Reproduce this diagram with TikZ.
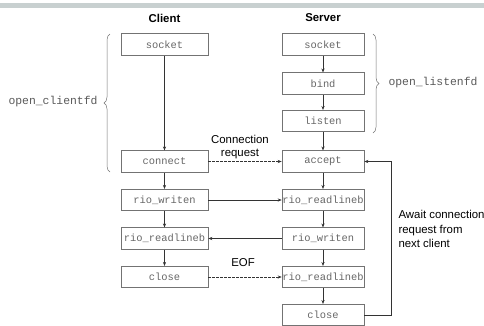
\documentclass[tikz,border=0pt]{standalone}
\usepackage{fontspec}
\setmainfont{Liberation Sans}
\newfontfamily\monofont{Liberation Mono}
\usetikzlibrary{arrows.meta,decorations.pathreplacing}
\definecolor{barcol}{RGB}{200,208,208}
\tikzset{
  fnbox/.style={draw=black!55, line width=0.6pt, minimum height=21.5pt, inner sep=0pt,
    text=black!60, font=\monofont\fontsize{10.4pt}{12pt}\selectfont},
  cbox/.style={fnbox, minimum width=87pt},
  sbox/.style={fnbox, minimum width=82pt},
  flow/.style={draw=black!80, line width=0.6pt, -{Stealth[length=4pt,width=3.2pt]}},
  msg/.style={flow, dash pattern=on 2.5pt off 1.5pt},
  head/.style={font=\bfseries\fontsize{11.4pt}{13pt}\selectfont},
  note/.style={font=\fontsize{11.4pt}{14.5pt}\selectfont},
  fdname/.style={text=black!65, font=\monofont\fontsize{11.4pt}{13pt}\selectfont},
  grp/.style={draw=black!55, line width=0.5pt, decorate, decoration={brace, amplitude=6pt}}
}

\begin{document}
\begin{tikzpicture}[x=1pt,y=-1pt]
			%%%%% START %%%%%
			\useasboundingbox (0,0) rectangle (484,325);
			\fill[barcol] (0,3) rectangle (484,8);
			
			\node[head] (client) at (164.5,18) {Client};
			\node[head] (server) at (323,18) {Server};
			
			\node[cbox] (csock) at (164.5,44.5) {socket};
			\node[cbox] (cconn) at (164.5,161.5) {connect};
			\node[cbox] (cwrite) at (164.5,200) {rio\_writen};
			\node[cbox] (cread) at (164.5,238.5) {rio\_readlineb};
			\node[cbox] (cclose) at (164.5,277) {close};
			
			\node[sbox] (ssock) at (323,44.5) {socket};
			\node[sbox] (sbind) at (323,83.5) {bind};
			\node[sbox] (slisten) at (323,121) {listen};
			\node[sbox] (saccept) at (323,161.5) {accept};
			\node[sbox] (sreadA) at (323,200) {rio\_readlineb};
			\node[sbox] (swrite) at (323,238.5) {rio\_writen};
			\node[sbox] (sreadB) at (323,277) {rio\_readlineb};
			\node[sbox] (sclose) at (323,315) {close};
			
			\draw[flow] (csock) -- (cconn);
			\draw[flow] (cconn) -- (cwrite);
			\draw[flow] (cwrite) -- (cread);
			\draw[flow] (cread) -- (cclose);
			
			\draw[flow] (ssock) -- (sbind);
			\draw[flow] (sbind) -- (slisten);
			\draw[flow] (slisten) -- (saccept);
			\draw[flow] (saccept) -- (sreadA);
			\draw[flow] (sreadA) -- (swrite);
			\draw[flow] (swrite) -- (sreadB);
			\draw[flow] (sreadB) -- (sclose);
			
			\draw[msg] (cconn) -- (saccept);
			\draw[flow] (cwrite) -- (sreadA);
			\draw[flow] (swrite) -- (cread);
			\draw[msg] (cclose) -- (sreadB);
			\draw[flow] (sclose.east) -- ++(27,0) |- (saccept.east);
			
			\node[note, align=center, font=\fontsize{11.4pt}{13pt}\selectfont] (creq) at (240,147.5) {Connection\\request};
			\node[note] (eof) at (243,263) {EOF};
			\node[note, align=left, anchor=north west] (await) at (395,207) {Await connection\\request from\\next client};
			
			\draw[grp] (110,172) -- (110,34);
			\node[fdname, anchor=east] (openc) at (101,102) {open\_clientfd};
			\draw[grp] (373,34) -- (373,133);
			\node[fdname, anchor=west] (openl) at (385,83) {open\_listenfd};
			%%%%% END %%%%%
\end{tikzpicture}
\end{document}
